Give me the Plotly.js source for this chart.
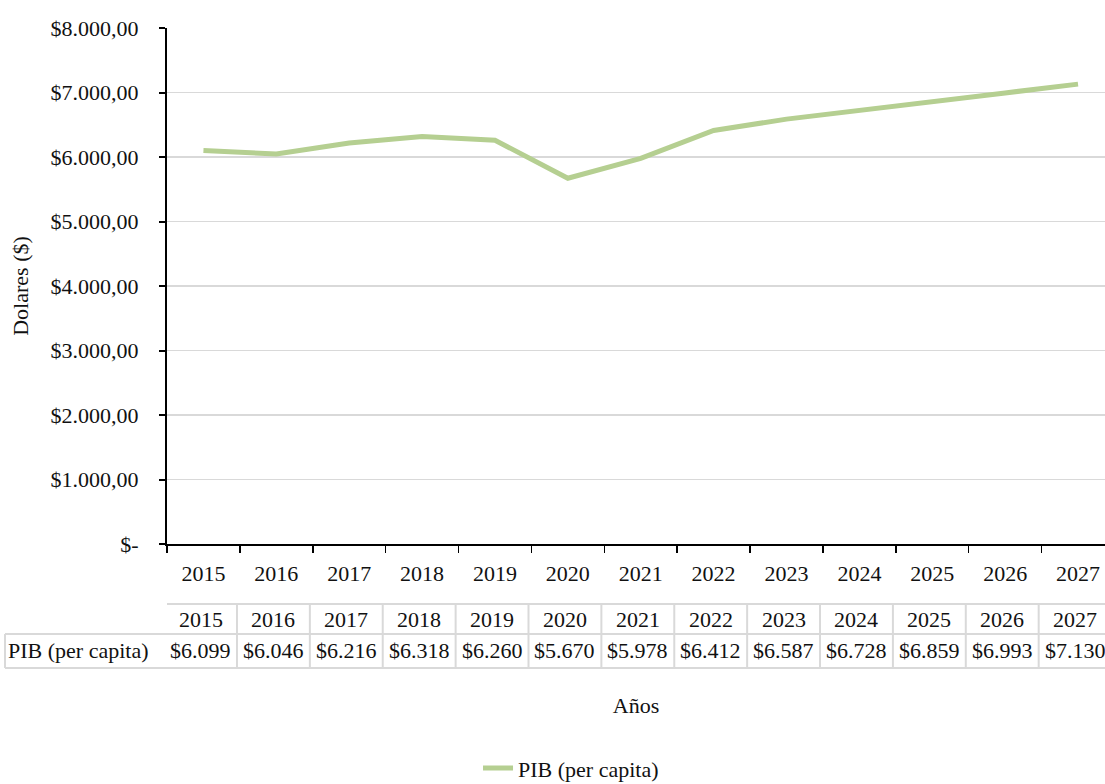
<!DOCTYPE html>
<html>
<head>
<meta charset="utf-8">
<script src="https://cdn.plot.ly/plotly-3.0.1.min.js"></script>
<style>
  html, body { margin: 0; padding: 0; background: #fff; }
  #chart { width: 1105px; height: 784px; }
</style>
</head>
<body>
<div id="chart"></div>
<script>
// GDP per capita, 2015–2027
const years = ["2015", "2016", "2017", "2018", "2019", "2020", "2021",
               "2022", "2023", "2024", "2025", "2026", "2027"];
const pibPerCapita = [6099, 6046, 6216, 6318, 6260, 5670, 5978,
                      6412, 6587, 6728, 6859, 6993, 7130];
const tableLabels = ["$6.099", "$6.046", "$6.216", "$6.318", "$6.260", "$5.670", "$5.978",
                     "$6.412", "$6.587", "$6.728", "$6.859", "$6.993", "$7.130"];
const yTickValues = [0, 1000, 2000, 3000, 4000, 5000, 6000, 7000, 8000];
const yTickLabels = ["$-", "$1.000,00", "$2.000,00", "$3.000,00", "$4.000,00",
                     "$5.000,00", "$6.000,00", "$7.000,00", "$8.000,00"];
const seriesName = "PIB (per capita)";

const FONT = "'Liberation Serif', 'DejaVu Serif', serif";
const FS = 22;
const TXT = "#111";
const GRID = "#d9d9d9";
const TABLE_LINE = "#d9d9d9";

// Data table under the axis: column edges follow the category boundaries
const rowTop = -0.1163, rowMid = -0.1744, rowBot = -0.2403;
const tableLeft = -0.1727;
const colShift = -0.04;
const shapes = [];
const annotations = [];

const lineStyle = { color: TABLE_LINE, width: 2 };
shapes.push({ type: "line", xref: "x", yref: "paper", x0: -0.5 + colShift, x1: 13, y0: rowTop, y1: rowTop, line: lineStyle });
shapes.push({ type: "line", xref: "paper", yref: "paper", x0: tableLeft, x1: 1.01, y0: rowMid, y1: rowMid, line: lineStyle });
shapes.push({ type: "line", xref: "paper", yref: "paper", x0: tableLeft, x1: 1.01, y0: rowBot, y1: rowBot, line: lineStyle });
shapes.push({ type: "line", xref: "paper", yref: "paper", x0: tableLeft, x1: tableLeft, y0: rowMid, y1: rowBot, line: lineStyle });
for (let k = 0; k <= years.length; k++) {
  shapes.push({ type: "line", xref: "x", yref: "paper", x0: k - 0.5 + colShift, x1: k - 0.5 + colShift,
                y0: rowTop, y1: rowBot, line: lineStyle });
}
years.forEach((yr, k) => {
  annotations.push({ xref: "x", yref: "paper", x: k + colShift, y: (rowTop + rowMid) / 2,
                     text: yr, showarrow: false, xanchor: "center", yanchor: "middle",
                     font: { family: FONT, size: FS, color: TXT } });
  annotations.push({ xref: "x", yref: "paper", x: k + colShift, y: (rowMid + rowBot) / 2,
                     text: tableLabels[k], showarrow: false, xanchor: "center", yanchor: "middle",
                     font: { family: FONT, size: FS, color: TXT } });
});
annotations.push({ xref: "paper", yref: "paper", x: tableLeft, y: (rowMid + rowBot) / 2,
                   text: seriesName, showarrow: false, xanchor: "left", yanchor: "middle",
                   xshift: 1, font: { family: FONT, size: FS, color: TXT } });

const trace = {
  type: "scatter",
  mode: "lines",
  x: years,
  y: pibPerCapita,
  name: seriesName,
  line: { color: "#b5cf91", width: 5 },
  hoverinfo: "x+y"
};

const layout = {
  width: 1105,
  height: 784,
  margin: { l: 167, r: 0, t: 28, b: 240 },
  paper_bgcolor: "#fff",
  plot_bgcolor: "#fff",
  font: { family: FONT, size: FS, color: TXT },
  showlegend: true,
  legend: {
    orientation: "h",
    xref: "container", yref: "container",
    x: 0.4326, xanchor: "left",
    y: 0.02, yanchor: "middle",
    font: { family: FONT, size: FS, color: TXT },
    bgcolor: "rgba(0,0,0,0)"
  },
  xaxis: {
    type: "category",
    range: [-0.5, 12.37],
    tickson: "boundaries",
    ticks: "outside",
    ticklen: 7,
    tickwidth: 1.5,
    tickcolor: "#000",
    showline: true,
    linecolor: "#000",
    linewidth: 2,
    showgrid: false,
    zeroline: false,
    ticklabelstandoff: 9,
    tickfont: { family: FONT, size: FS, color: TXT },
    title: { text: "Años", font: { family: FONT, size: FS, color: TXT }, standoff: 112 }
  },
  yaxis: {
    range: [0, 8000],
    tickvals: yTickValues,
    ticktext: yTickLabels,
    ticks: "outside",
    ticklen: 6,
    tickwidth: 2,
    tickcolor: "#000",
    showline: true,
    linecolor: "#000",
    linewidth: 2,
    showgrid: true,
    gridcolor: GRID,
    gridwidth: 1.5,
    zeroline: false,
    ticklabelstandoff: 16,
    tickfont: { family: FONT, size: FS, color: TXT },
    title: { text: "Dolares ($)", font: { family: FONT, size: FS, color: TXT }, standoff: 16 }
  },
  shapes: shapes,
  annotations: annotations
};

Plotly.newPlot("chart", [trace], layout, { displayModeBar: false, staticPlot: true });
</script>
</body>
</html>
